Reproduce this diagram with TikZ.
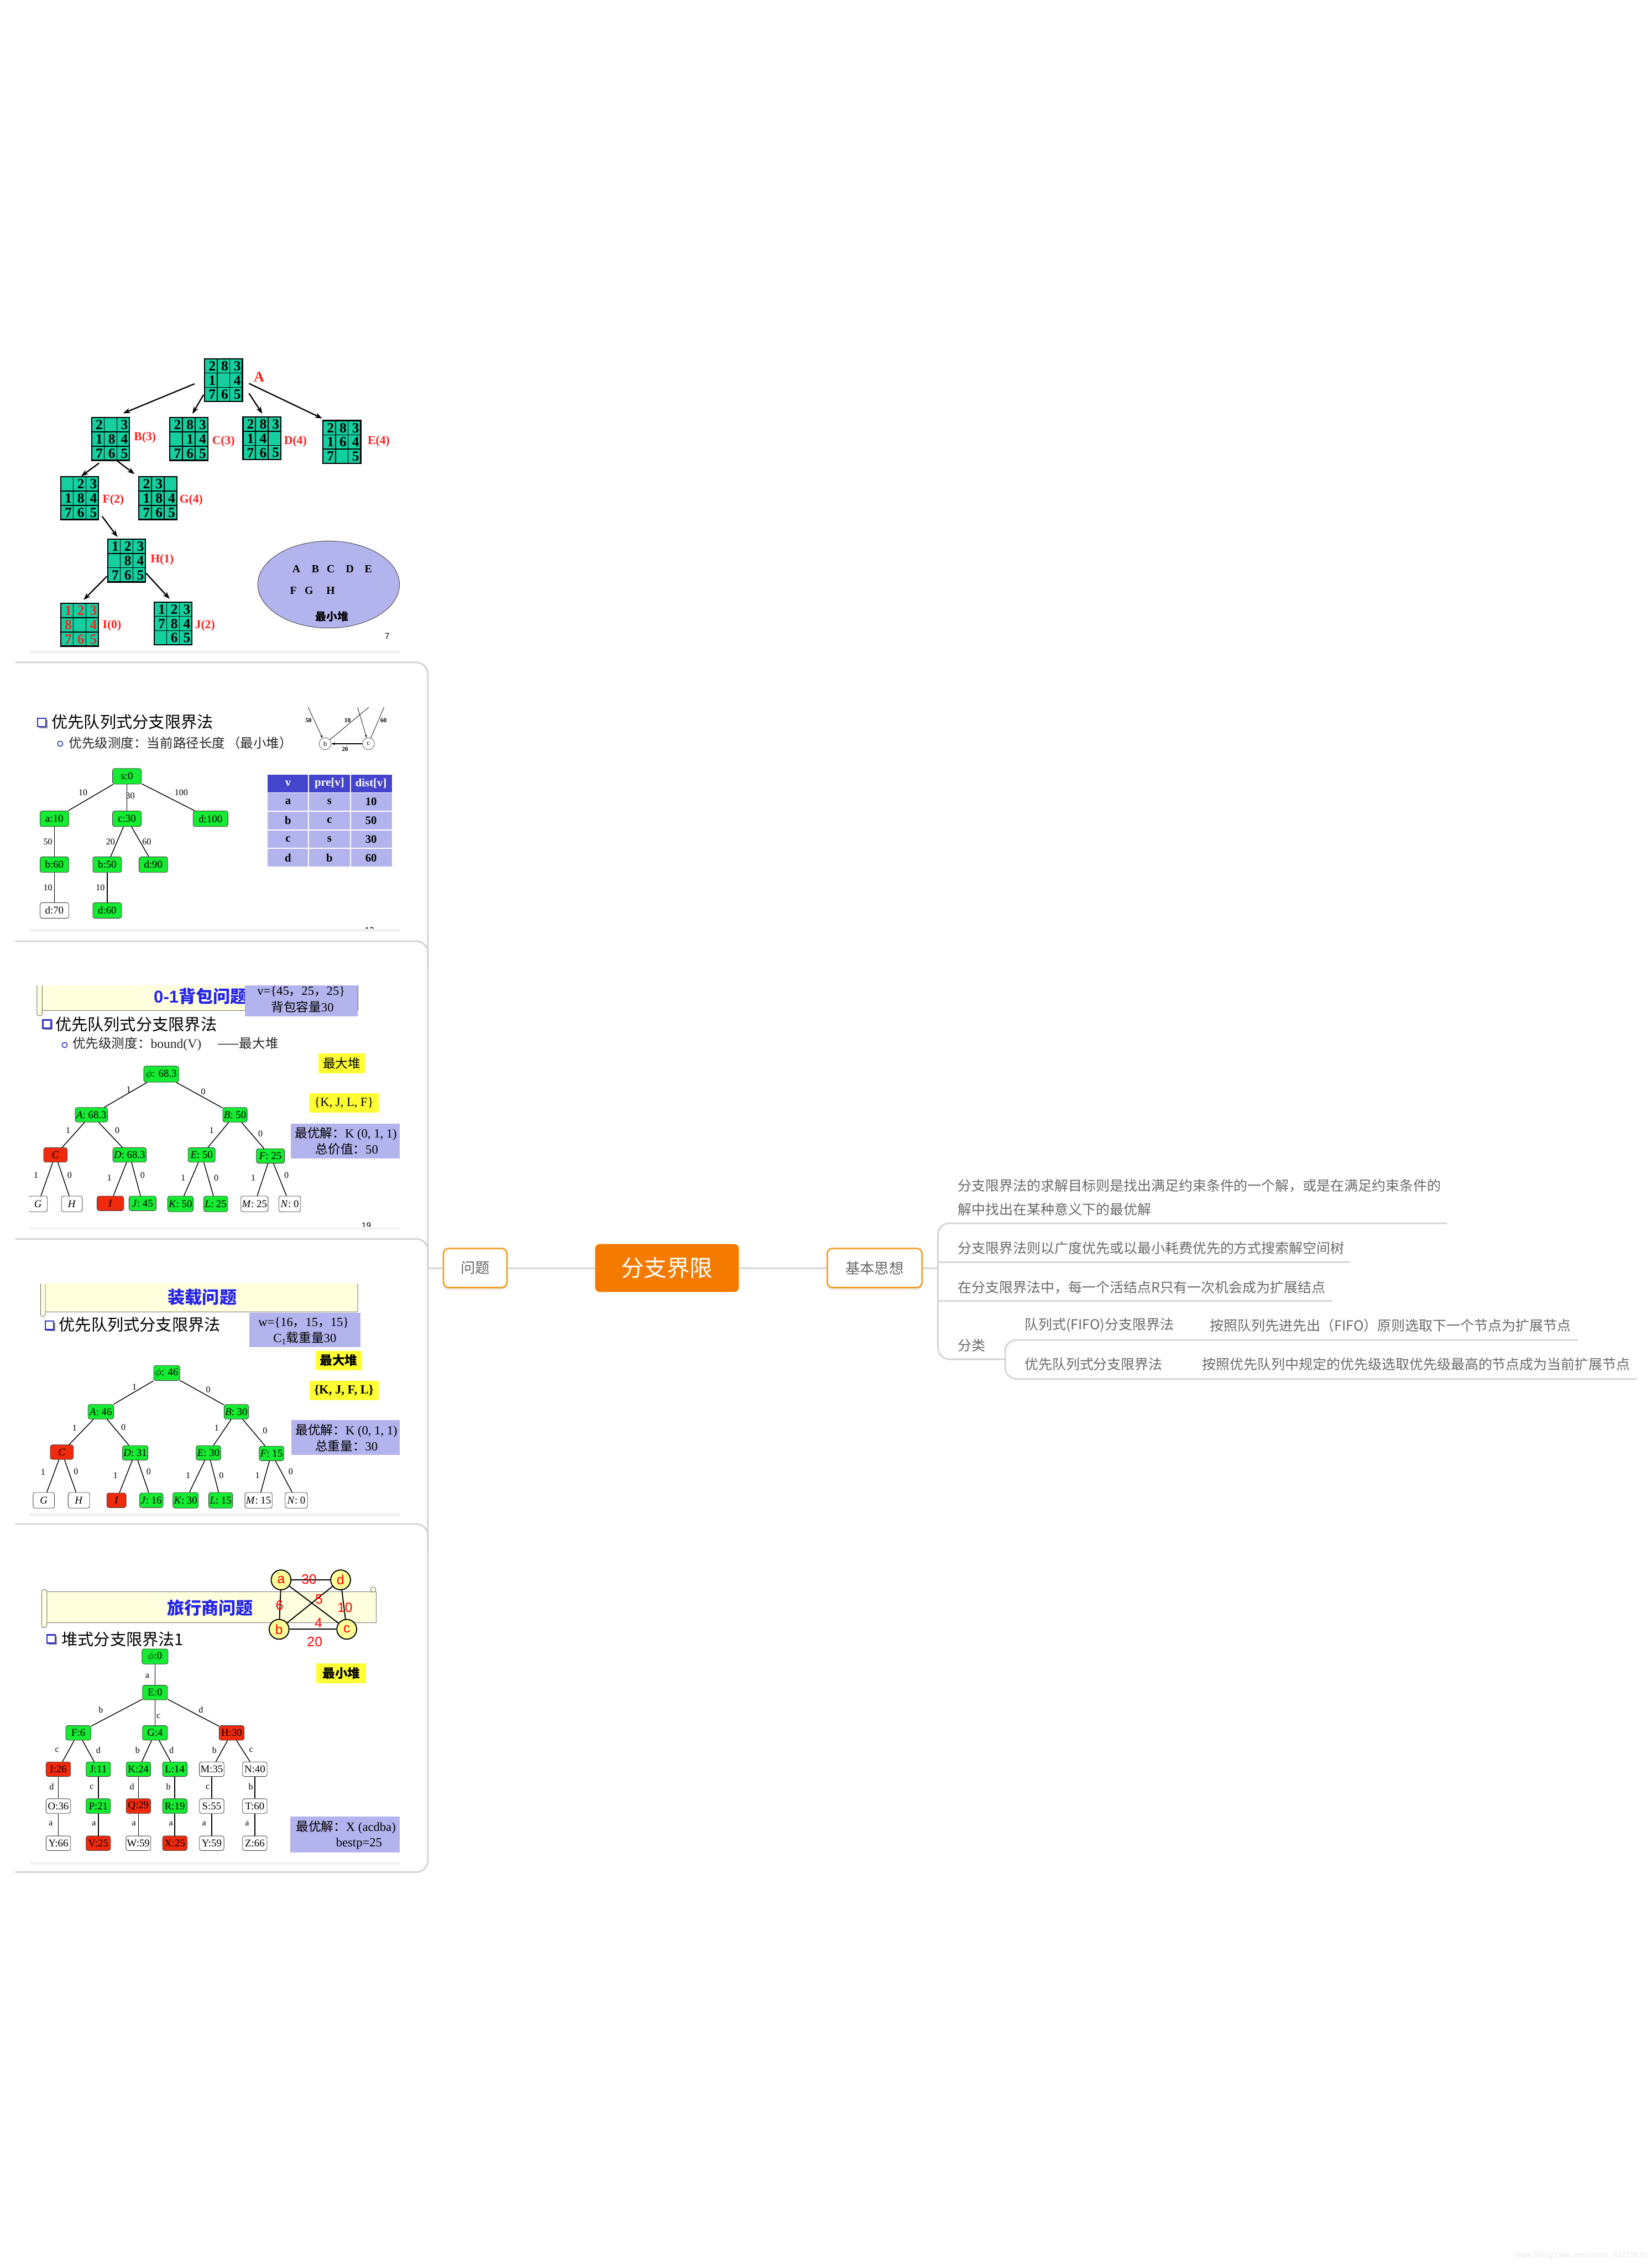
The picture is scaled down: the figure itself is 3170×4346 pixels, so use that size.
\documentclass[tikz,border=0pt]{standalone}
\usepackage{fontspec}
\setmainfont{Liberation Serif}
\newfontfamily\cjk{Noto Sans CJK SC}
\newfontfamily\arial{Liberation Sans}
\usetikzlibrary{arrows.meta,calc,shadows}

\definecolor{mmline}{RGB}{212,214,214}
\definecolor{mmtext}{RGB}{105,105,105}
\definecolor{mmorange}{RGB}{243,158,40}
\definecolor{rootorange}{RGB}{245,123,0}
\definecolor{tealcell}{RGB}{20,208,160}
\definecolor{nodegreen}{RGB}{20,235,50}
\definecolor{nodered}{RGB}{242,42,12}
\definecolor{pzred}{RGB}{255,30,30}
\definecolor{lavender}{RGB}{179,179,238}
\definecolor{headblue}{RGB}{68,68,204}
\definecolor{boxyellow}{RGB}{255,255,51}
\definecolor{bannercream}{RGB}{255,255,221}
\definecolor{titleblue}{RGB}{35,35,235}
\definecolor{bulletblue}{RGB}{50,50,200}
\definecolor{tspyellow}{RGB}{255,255,153}

\newcommand{\fsz}[1]{\fontsize{#1}{#1}\selectfont}
\newcommand{\zh}[1]{{\cjk #1}}

\tikzset{
  % mind map
  branch/.style={draw=mmline, line width=3.2pt},
  topic/.style={draw=mmorange, line width=3pt, rounded corners=10pt, fill=white, text=mmtext,
    font=\cjk\fsz{28}, minimum height=75pt,
    drop shadow={shadow xshift=0pt, shadow yshift=-5pt, opacity=0.12}},
  rootbox/.style={fill=rootorange, text=white, rounded corners=9pt, font=\cjk\fsz{44},
    minimum width=276pt, minimum height=92pt},
  leaf/.style={text=mmtext, font=\cjk\fsz{26.5}, inner sep=0pt, anchor=west},
  % slides
  slidebg/.style={fill=white, drop shadow={shadow xshift=0pt, shadow yshift=-6pt, opacity=0.1}},
  pzbox/.style={fill=tealcell, draw=black, line width=2.4pt, minimum width=72.6pt, minimum height=82pt, inner sep=0pt},
  pzgrid/.style={draw=black, line width=1.6pt},
  pzdigit/.style={font=\bfseries\fsz{27}, inner sep=0pt},
  pzlabel/.style={text=pzred, font=\bfseries\fsz{23}, inner sep=0pt, anchor=west},
  pzarrow/.style={-{Stealth[length=14pt,width=10pt]}, line width=2.4pt},
  tnode/.style={draw=black!75, line width=0.9pt, rounded corners=4pt, minimum height=28pt, inner sep=2pt, font=\fsz{20}},
  gnode/.style={tnode, fill=nodegreen},
  rnode/.style={tnode, fill=nodered},
  wnode/.style={tnode, fill=white},
  tedge/.style={line width=1.5pt},
  elabel/.style={font=\fsz{17}, inner sep=0pt},
  headline/.style={anchor=west, inner sep=0pt, font=\cjk\fsz{31}},
  subline/.style={anchor=west, inner sep=0pt, font=\fsz{25}, text=black!85},
  banner/.style={fill=bannercream, draw=black!55, line width=1pt},
  bannertitle/.style={text=titleblue, font=\cjk\bfseries\fsz{33}, inner sep=0pt},
  boxtext/.style={font=\fsz{24}, inner sep=0pt},
  tabtext/.style={font=\bfseries\fsz{22}, inner sep=0pt},
  tspnode/.style={circle, draw=black, line width=2pt, fill=tspyellow, minimum size=38pt, inner sep=0pt, text=red, font=\arial\fsz{26}},
  tsplabel/.style={text=red, font=\arial\fsz{26}, inner sep=0pt},
}

% one 3x3 board of the eight puzzle
\newcommand{\puzzle}[5]{%
  \node[pzbox] (#1) at (#2+36.3,#3+41) {};
  \draw[pzgrid] (#2+24.2,#3) -- ++(0,82) (#2+48.4,#3) -- ++(0,82)
                (#2,#3+27.3) -- ++(72.6,0) (#2,#3+54.7) -- ++(72.6,0);
  \foreach \dig [count=\pidx from 0] in {#4} {
    \pgfmathtruncatemacro{\prow}{floor(\pidx/3)}
    \pgfmathtruncatemacro{\pcol}{\pidx-3*\prow}
    \node[pzdigit, text=#5] (#1-\pidx) at (#2+\pcol*24.2+14.5,#3+\prow*27.3+14) {\dig};
  }
}
\newcommand{\sqbullet}[2]{%
  \fill[black!45] (#1+3,#2+3) rectangle ++(16,16);
  \draw[fill=white, draw=bulletblue, line width=2.6pt] (#1,#2) rectangle ++(16,16);
}

\begin{document}
\begin{tikzpicture}[x=1pt, y=-1pt]
\useasboundingbox (0,0) rectangle (3170,4346);

% Draw the bracket that holds the slides
\draw[branch, rounded corners=22pt] (29,1271) -- (821,1271) -- (821,3592) -- (29,3592);
\draw[branch, rounded corners=22pt] (29,1806) -- (821,1806) -- (821,1860);
\draw[branch, rounded corners=22pt] (29,2377) -- (821,2377) -- (821,2430);
\draw[branch, rounded corners=22pt] (29,2924) -- (821,2924) -- (821,2980);
\coordinate (lbr) at (821,2433);

% Main topics
\node[rootbox] (root) at (1280,2433) {分支界限};
\node[topic, minimum width=122pt] (wenti) at (912,2433) {问题};
\node[topic, minimum width=182pt] (jbsx) at (1678.5,2433) {基本思想};
\coordinate (rbr) at (1800,2433);
\draw[branch] (lbr) -- (wenti);
\draw[branch] (wenti) -- (root);
\draw[branch] (root) -- (jbsx);
\draw[branch] (jbsx) -- (rbr);

% Right bracket with its leaves
\draw[branch, rounded corners=22pt] (2777,2347) -- (1800,2347) -- (1800,2608) -- (1929,2608);
\draw[branch] (1800,2422) -- (2591,2422);
\draw[branch] (1800,2496) -- (2557,2496);
\draw[branch, rounded corners=22pt] (3028,2571) -- (1929,2571) -- (1929,2646) -- (3141,2646);
\node[leaf, align=left, font=\cjk\fontsize{26.5}{45}\selectfont] (k1) at (1838,2297.5)
  {分支限界法的求解目标则是找出满足约束条件的一个解，或是在满足约束条件的\\解中找出在某种意义下的最优解};
\node[leaf] (k2) at (1838,2395) {分支限界法则以广度优先或以最小耗费优先的方式搜索解空间树};
\node[leaf] (k3) at (1838,2470) {在分支限界法中，每一个活结点R只有一次机会成为扩展结点};
\node[leaf] (k4) at (1838,2582) {分类};
\node[leaf] (k41) at (1966,2543) {队列式(FIFO)分支限界法};
\node[leaf] (k41d) at (2322,2543) {按照队列先进先出（FIFO）原则选取下一个节点为扩展节点};
\node[leaf] (k42) at (1966,2618) {优先队列式分支限界法};
\node[leaf] (k42d) at (2307,2618) {按照优先队列中规定的优先级选取优先级最高的节点成为当前扩展节点};

% Slide 1: eight puzzle
\fill[slidebg] (56,688) rectangle (767,1248);
\begin{scope}
  \clip (56,688) rectangle (767,1248);
  \puzzle{pA}{392.6}{688.4}{2,8,3,1,{},4,7,6,5}{black}
  \puzzle{pB}{175.9}{801.3}{2,{},3,1,8,4,7,6,5}{black}
  \puzzle{pC}{326.0}{801.3}{2,8,3,{},1,4,7,6,5}{black}
  \puzzle{pD}{466.2}{800.1}{2,8,3,1,4,{},7,6,5}{black}
  \puzzle{pE}{619.6}{807.0}{2,8,3,1,6,4,7,{},5}{black}
  \puzzle{pF}{116.5}{914.9}{{},2,3,1,8,4,7,6,5}{black}
  \puzzle{pG}{266.6}{914.9}{2,3,{},1,8,4,7,6,5}{black}
  \puzzle{pH}{206.6}{1034.7}{1,2,3,{},8,4,7,6,5}{black}
  \puzzle{pI}{116.5}{1157.9}{1,2,3,8,{},4,7,6,5}{pzred}
  \puzzle{pJ}{295.8}{1155.3}{1,2,3,7,8,4,{},6,5}{black}
  \node[pzlabel, font=\bfseries\fsz{28}] (lA) at (487,723.6) {A};
  \node[pzlabel] (lB) at (257,840) {B(3)};
  \node[pzlabel] (lC) at (407,847) {C(3)};
  \node[pzlabel] (lD) at (545,847) {D(4)};
  \node[pzlabel] (lE) at (705.5,847) {E(4)};
  \node[pzlabel] (lF) at (196.7,960) {F(2)};
  \node[pzlabel] (lG) at (344.4,959) {G(4)};
  \node[pzlabel] (lH) at (288.7,1073.7) {H(1)};
  \node[pzlabel] (lI) at (196.7,1200) {I(0)};
  \node[pzlabel] (lJ) at (374,1200) {J(2)};
  \draw[pzarrow] ($(pA.west)+(-18,7)$) -- ($(pB.north)+(24,-7)$);
  \draw[pzarrow] ($(pA.south west)+(-1,-14)$) -- ($(pC.north)+(7,-6)$);
  \draw[pzarrow] ($(pA.south east)+(11.4,-17)$) -- ($(pD.north)+(1,-5)$);
  \draw[pzarrow] ($(pA.east)+(11.4,6.4)$) -- ($(pE.north west)+(0,-3)$);
  \draw[pzarrow] ($(pB.south)+(-22,4)$) -- ($(pF.north)+(3,0)$);
  \draw[pzarrow] ($(pB.south)+(13,0)$) -- ($(pG.north west)+(-7,-4)$);
  \draw[pzarrow] ($(pF.south east)+(5.7,-7.4)$) -- ($(pH.north)+(-17.4,-3)$);
  \draw[pzarrow] ($(pH.south west)+(0,-12.3)$) -- ($(pI.north)+(7.6,-5.7)$);
  \draw[pzarrow] ($(pH.south east)+(0,-18)$) -- ($(pJ.north)+(-6.5,-5)$);
  % the heap
  \draw[fill=lavender, draw=black!70, line width=1pt] (630.7,1121.6) ellipse [x radius=136, y radius=83.5];
  \foreach \l/\x in {A/568.6, B/605.4, C/634.7, D/671.5, E/707}
    \node[font=\bfseries\fsz{21}, inner sep=0pt] (h\l) at (\x,1091.7) {\l};
  \foreach \l/\x in {F/563, G/593, H/634.7}
    \node[font=\bfseries\fsz{21}, inner sep=0pt] (h\l) at (\x,1133) {\l};
  \node[font=\cjk\bfseries\fsz{21}, inner sep=0pt] (heap1) at (637,1183) {最小堆};
  \node[font=\arial\fsz{16}, inner sep=0pt] (pg1) at (743,1221) {7};
\end{scope}

% Slide 2: shortest path with a priority queue
\fill[slidebg] (56,1358) rectangle (767,1782);
\begin{scope}
  \clip (56,1358) rectangle (767,1782);
  \sqbullet{72}{1378}
  \node[headline] (t2) at (99,1385) {优先队列式分支限界法};
  \draw[bulletblue, line width=1.6pt] (115.5,1427) circle (5);
  \node[subline] (u2) at (132,1426) {\zh{优先级测度：当前路径长度\,（最小堆）}};
  % small graph
  \node[circle, draw=black!70, line width=0.8pt, fill=white, minimum size=23pt, inner sep=0pt, font=\fsz{13}] (gb) at (624,1427) {b};
  \node[circle, draw=black!70, line width=0.8pt, fill=white, minimum size=23pt, inner sep=0pt, font=\fsz{13}] (gc) at (707,1427) {c};
  \coordinate (g50) at (588,1350);
  \coordinate (g10) at (716,1350);
  \coordinate (gx) at (684,1350);
  \coordinate (g60) at (740,1350);
  \draw[-{Stealth[length=6pt,width=4pt]}, line width=0.8pt] (g50) -- (gb);
  \draw[line width=0.8pt] (gb) -- (g10);
  \draw[-{Stealth[length=6pt,width=4pt]}, line width=0.8pt] (gx) -- (gc);
  \draw[-{Stealth[length=6pt,width=4pt]}, line width=0.8pt] (gc) -- (g60);
  \draw[-{Stealth[length=7pt,width=5pt]}, line width=1.4pt] (gc) -- (gb);
  \node[font=\bfseries\fsz{12}, inner sep=0pt] (w50) at (592,1382) {50};
  \node[font=\bfseries\fsz{12}, inner sep=0pt] (w10) at (667,1382) {10};
  \node[font=\bfseries\fsz{12}, inner sep=0pt] (w60) at (736,1382) {60};
  \node[font=\bfseries\fsz{12}, inner sep=0pt] (w20) at (662,1437) {20};
  % tree
  \node[gnode, minimum width=55pt, minimum height=30pt] (s2) at (243.6,1489.5) {s:0};
  \node[gnode, minimum width=55pt, minimum height=30pt] (a2) at (104.4,1571) {a:10};
  \node[gnode, minimum width=55pt, minimum height=30pt] (c2) at (243.6,1571) {c:30};
  \node[gnode, minimum width=67pt, minimum height=30pt] (d2) at (404,1571) {d:100};
  \node[gnode, minimum width=55pt, minimum height=30pt] (b2) at (104.4,1659) {b:60};
  \node[gnode, minimum width=55pt, minimum height=30pt] (bb2) at (205.7,1659) {b:50};
  \node[gnode, minimum width=55pt, minimum height=30pt] (dd2) at (294.2,1659) {d:90};
  \node[wnode, minimum width=55pt, minimum height=30pt] (e2) at (104.4,1747) {d:70};
  \node[gnode, minimum width=55pt, minimum height=30pt] (f2) at (205.7,1747) {d:60};
  \draw[tedge] (s2) -- (a2);
  \draw[tedge] (s2) -- (c2);
  \draw[tedge] (s2) -- (d2);
  \draw[tedge] (a2) -- (b2);
  \draw[tedge] (c2) -- (bb2);
  \draw[tedge] (c2) -- (dd2);
  \draw[tedge] (b2) -- (e2);
  \draw[tedge] (bb2) -- (f2);
  \node[elabel] (l2a) at (159.4,1521) {10};
  \node[elabel] (l2b) at (250,1527) {30};
  \node[elabel] (l2c) at (348,1521) {100};
  \node[elabel] (l2d) at (92,1615) {50};
  \node[elabel] (l2e) at (212,1615) {20};
  \node[elabel] (l2f) at (281.7,1615) {60};
  \node[elabel] (l2g) at (92,1703) {10};
  \node[elabel] (l2h) at (192.5,1703) {10};
  % table
  \fill[headblue] (513.4,1486.7) rectangle (751.8,1520);
  \fill[lavender] (513.4,1521.7) rectangle (751.8,1662.7);
  \draw[white, line width=2pt] (592.2,1486.7) -- (592.2,1662.7) (672.5,1486.7) -- (672.5,1662.7)
    (513.4,1556.3) -- (751.8,1556.3) (513.4,1592.3) -- (751.8,1592.3) (513.4,1628) -- (751.8,1628);
  \node[tabtext, text=white] (th1) at (552.8,1503) {v};
  \node[tabtext, text=white] (th2) at (632.3,1503) {pre[v]};
  \node[tabtext, text=white] (th3) at (712.1,1503) {dist[v]};
  \foreach \r/\y/\va/\vb/\vc in {1/1538.4/a/s/10, 2/1574/b/c/50, 3/1610.3/c/s/30, 4/1646/d/b/60} {
    \node[tabtext] (tv\r) at (552.8,\y) {\va};
    \node[tabtext] (tp\r) at (632.3,\y) {\vb};
    \node[tabtext] (td\r) at (712.1,\y) {\vc};
  }
  \node[font=\arial\fsz{16}, inner sep=0pt] (pg2) at (709,1785) {12};
\end{scope}

% Slide 3: 0-1 knapsack
\fill[slidebg] (56,1891) rectangle (767,2354);
\begin{scope}
  \clip (56,1891) rectangle (767,2354);
  \draw[banner] (80,1880) rectangle (686.6,1939);
  \draw[banner, rounded corners=4pt] (71,1878) rectangle (81,1949);
  \node[bannertitle, anchor=west] (ti3) at (295,1911.7) {{\arial\bfseries 0-1}背包问题};
  \fill[lavender] (470.5,1885) rectangle (686.6,1950);
  \draw[black!60, line width=1pt] (686.6,1885) -- (686.6,1937);
  \node[boxtext] (v3) at (578,1903) {v=\{45\zh{，}25\zh{，}25\}};
  \node[boxtext] (cap3) at (580.4,1931.7) {\zh{背包容量}30};
  \sqbullet{82}{1957}
  \node[headline] (t3) at (106,1965) {优先队列式分支限界法};
  \draw[bulletblue, line width=1.6pt] (124,2005) circle (5);
  \node[subline] (u3) at (139,2003) {\zh{优先级测度：}bound(V)\hspace{31pt}\zh{——最大堆}};
  \fill[boxyellow] (611,2021.7) rectangle (700.8,2059);
  \node[boxtext, font=\cjk\fsz{24}] (y3a) at (656,2040) {最大堆};
  \fill[boxyellow] (593,2097.7) rectangle (726.8,2135);
  \node[boxtext] (y3b) at (660,2116) {\{K, J, L, F\}};
  \fill[lavender] (558,2156) rectangle (767.8,2223.3);
  \node[boxtext, anchor=west] (o3a) at (566,2176) {\zh{最优解：}K (0, 1, 1)};
  \node[boxtext] (o3b) at (665.6,2205) {\zh{总价值：}50};
  % tree
  \node[gnode, minimum width=67pt, minimum height=31pt] (p3) at (309.5,2061) {$\phi$: 68.3};
  \node[gnode, minimum width=61pt] (A3) at (175.4,2139) {\textit{A}: 68.3};
  \node[gnode, minimum width=46pt] (B3) at (451,2139) {\textit{B}: 50};
  \node[rnode, minimum width=45pt] (C3) at (106.3,2216) {\textit{C}};
  \node[gnode, minimum width=60pt] (D3) at (248.6,2216) {\textit{D}: 68.3};
  \node[gnode, minimum width=52pt] (E3) at (387,2216) {\textit{E}: 50};
  \node[gnode, minimum width=54pt] (F3) at (519,2218) {\textit{F}: 25};
  \node[wnode, minimum width=36pt, minimum height=30pt] (G3) at (73,2310) {\textit{G}};
  \node[wnode, minimum width=40pt, minimum height=30pt] (H3) at (138,2310) {\textit{H}};
  \node[rnode, minimum width=51pt] (I3) at (211.8,2309) {\textit{I}};
  \node[gnode, minimum width=52pt] (J3) at (273.6,2309) {\textit{J}: 45};
  \node[gnode, minimum width=46pt, minimum height=30pt] (K3) at (346.3,2310) {\textit{K}: 50};
  \node[gnode, minimum width=45pt, minimum height=30pt] (L3) at (414,2310) {\textit{L}: 25};
  \node[wnode, minimum width=52pt, minimum height=30pt] (M3) at (488.4,2310) {\textit{M}: 25};
  \node[wnode, minimum width=42pt, minimum height=30pt] (N3) at (556,2310) {\textit{N}: 0};
  \draw[tedge] (p3) -- (A3);
  \draw[tedge] (p3) -- (B3);
  \draw[tedge] (A3) -- (C3);
  \draw[tedge] (A3) -- (D3);
  \draw[tedge] (B3) -- (E3);
  \draw[tedge] (B3) -- (F3);
  \draw[tedge] (C3) -- (G3);
  \draw[tedge] (C3) -- (H3);
  \draw[tedge] (D3) -- (I3);
  \draw[tedge] (D3) -- (J3);
  \draw[tedge] (E3) -- (K3);
  \draw[tedge] (E3) -- (L3);
  \draw[tedge] (F3) -- (M3);
  \draw[tedge] (F3) -- (N3);
  \node[elabel] (e3a) at (246.7,2090) {1};
  \node[elabel] (e3b) at (390,2095) {0};
  \node[elabel] (e3c) at (130.6,2169) {1};
  \node[elabel] (e3d) at (225,2169) {0};
  \node[elabel] (e3e) at (406,2169) {1};
  \node[elabel] (e3f) at (500,2175) {0};
  \node[elabel] (e3g) at (69,2255) {1};
  \node[elabel] (e3h) at (133.5,2255) {0};
  \node[elabel] (e3i) at (210,2260.7) {1};
  \node[elabel] (e3j) at (273.6,2255) {0};
  \node[elabel] (e3k) at (351.5,2260.7) {1};
  \node[elabel] (e3l) at (415,2260.7) {0};
  \node[elabel] (e3m) at (486,2260.7) {1};
  \node[elabel] (e3n) at (549.8,2255) {0};
  \node[font=\arial\fsz{16}, inner sep=0pt] (pg3) at (703,2352) {19};
\end{scope}

% Slide 4: loading problem
\fill[slidebg] (56,2463) rectangle (767,2903);
\begin{scope}
  \clip (56,2463) rectangle (767,2903);
  \draw[banner, rounded corners=3pt] (84,2455) rectangle (686.6,2517.3);
  \draw[banner, rounded corners=4pt] (77.8,2455) rectangle (87,2526);
  \node[bannertitle] (ti4) at (388.3,2489.3) {装载问题};
  \sqbullet{87}{2535}
  \node[headline] (t4) at (113,2541.7) {优先队列式分支限界法};
  \fill[lavender] (478,2519) rectangle (691.4,2585);
  \node[boxtext] (w4) at (582.8,2538.3) {w=\{16\zh{，}15\zh{，}15\}};
  \node[boxtext] (cap4) at (585,2567.7) {C\textsubscript{1}\zh{载重量}30};
  \fill[boxyellow] (605.5,2591.7) rectangle (694.7,2629);
  \node[boxtext, font=\cjk\bfseries\fsz{24}] (y4a) at (650,2610) {最大堆};
  \fill[boxyellow] (593.7,2649.3) rectangle (726.8,2686.7);
  \node[boxtext, font=\bfseries\fsz{24}] (y4b) at (660,2668) {\{K, J, F, L\}};
  \fill[lavender] (559,2725) rectangle (767.8,2791.7);
  \node[boxtext, anchor=west] (o4a) at (567,2745) {\zh{最优解：}K (0, 1, 1)};
  \node[boxtext] (o4b) at (665,2774.3) {\zh{总重量：}30};
  % tree
  \node[gnode, minimum width=50pt, minimum height=29pt] (p4) at (320,2634.5) {$\phi$: 46};
  \node[gnode, minimum width=49pt] (A4) at (193.5,2708.8) {\textit{A}: 46};
  \node[gnode, minimum width=46pt] (B4) at (453.5,2708.8) {\textit{B}: 30};
  \node[rnode, minimum width=44pt] (C4) at (118.6,2786.3) {\textit{C}};
  \node[gnode, minimum width=49pt] (D4) at (259.5,2787.7) {\textit{D}: 31};
  \node[gnode, minimum width=47pt] (E4) at (400,2787.7) {\textit{E}: 30};
  \node[gnode, minimum width=46pt] (F4) at (521,2788.8) {\textit{F}: 15};
  \node[wnode, minimum width=41pt, minimum height=30pt] (G4) at (84,2878.7) {\textit{G}};
  \node[wnode, minimum width=41pt, minimum height=30pt] (H4) at (151.4,2878.7) {\textit{H}};
  \node[rnode, minimum width=37pt] (I4) at (223.5,2878.7) {\textit{I}};
  \node[gnode, minimum width=45pt] (J4) at (290.4,2878.7) {\textit{J}: 16};
  \node[gnode, minimum width=47pt, minimum height=30pt] (K4) at (356.2,2878.7) {\textit{K}: 30};
  \node[gnode, minimum width=45pt, minimum height=30pt] (L4) at (423.5,2878.7) {\textit{L}: 15};
  \node[wnode, minimum width=50pt, minimum height=30pt] (M4) at (496.2,2878.7) {\textit{M}: 15};
  \node[wnode, minimum width=43pt, minimum height=30pt] (N4) at (568.7,2878.7) {\textit{N}: 0};
  \draw[tedge] (p4) -- (A4);
  \draw[tedge] (p4) -- (B4);
  \draw[tedge] (A4) -- (C4);
  \draw[tedge] (A4) -- (D4);
  \draw[tedge] (B4) -- (E4);
  \draw[tedge] (B4) -- (F4);
  \draw[tedge] (C4) -- (G4);
  \draw[tedge] (C4) -- (H4);
  \draw[tedge] (D4) -- (I4);
  \draw[tedge] (D4) -- (J4);
  \draw[tedge] (E4) -- (K4);
  \draw[tedge] (E4) -- (L4);
  \draw[tedge] (F4) -- (M4);
  \draw[tedge] (F4) -- (N4);
  \node[elabel] (e4a) at (258,2661.7) {1};
  \node[elabel] (e4b) at (399.7,2666.7) {0};
  \node[elabel] (e4c) at (143,2740) {1};
  \node[elabel] (e4d) at (236.8,2739) {0};
  \node[elabel] (e4e) at (415.7,2740) {1};
  \node[elabel] (e4f) at (508.7,2745) {0};
  \node[elabel] (e4g) at (82.5,2825) {1};
  \node[elabel] (e4h) at (145.7,2824) {0};
  \node[elabel] (e4i) at (221.7,2830.7) {1};
  \node[elabel] (e4j) at (285.4,2824) {0};
  \node[elabel] (e4k) at (361,2830.7) {1};
  \node[elabel] (e4l) at (424.7,2830.7) {0};
  \node[elabel] (e4m) at (494,2830.7) {1};
  \node[elabel] (e4n) at (558,2824) {0};
\end{scope}

% Slide 5: travelling salesman
\fill[slidebg] (56,3012) rectangle (767,3572);
\begin{scope}
  \clip (56,3012) rectangle (767,3572);
  \draw[banner] (88,3053.6) rectangle (722,3114);
  \draw[banner, rounded corners=4pt] (80,3050) rectangle (90,3123);
  \draw[banner] (716,3050) circle (5);
  \node[bannertitle] (ti5) at (403.4,3085.5) {旅行商问题};
  % the graph
  \node[tspnode] (ta) at (539.4,3031.4) {a};
  \node[tspnode] (td) at (653.6,3031.4) {d};
  \node[tspnode] (tb) at (535.6,3126.2) {b};
  \node[tspnode] (tc) at (665.4,3126.2) {c};
  \draw[line width=2pt] (ta) -- (td);
  \draw[line width=2pt] (ta) -- (tb);
  \draw[line width=2pt] (td) -- (tc);
  \draw[line width=2pt] (tb) -- (tc);
  \draw[line width=2pt] (ta) -- (tc);
  \draw[line width=2pt] (td) -- (tb);
  \node[tsplabel] (c30) at (593,3030.7) {30};
  \node[tsplabel] (c5) at (612.5,3068.4) {5};
  \node[tsplabel] (c6) at (536.5,3080.7) {6};
  \node[tsplabel] (c10) at (662,3084.4) {10};
  \node[tsplabel] (c4) at (611,3114) {4};
  \node[tsplabel] (c20) at (604,3149.8) {20};
  \sqbullet{90}{3137}
  \node[headline] (t5) at (118,3145.4) {堆式分支限界法1};
  \fill[boxyellow] (607.4,3191.7) rectangle (702,3229.8);
  \node[boxtext, font=\cjk\bfseries\fsz{24}] (y5) at (655,3211) {最小堆};
  \fill[lavender] (557,3485) rectangle (767,3554);
  \node[boxtext, anchor=west] (o5a) at (568,3506) {\zh{最优解：}X (acdba)};
  \node[boxtext] (o5b) at (689,3537) {bestp=25};
  % tree
  \node[gnode, minimum width=50pt, minimum height=29pt] (p5) at (297.5,3178.4) {$\phi$:0};
  \node[gnode, minimum width=48pt] (E5) at (297.5,3247.6) {E:0};
  \node[gnode, minimum width=48pt] (F5) at (150.3,3325) {F:6};
  \node[gnode, minimum width=48pt] (G5) at (297.5,3325) {G:4};
  \node[rnode, minimum width=48pt] (H5) at (444.6,3325) {H:30};
  \node[rnode, minimum width=47pt] (I5) at (112,3394.7) {I:26};
  \node[gnode, minimum width=47pt] (J5) at (188.7,3394.7) {J:11};
  \node[gnode, minimum width=47pt] (K5) at (265.6,3394.7) {K:24};
  \node[gnode, minimum width=47pt] (L5) at (335.5,3394.7) {L:14};
  \node[wnode, minimum width=47pt] (M5) at (406.3,3394.7) {M:35};
  \node[wnode, minimum width=47pt] (N5) at (489,3394.7) {N:40};
  \node[wnode, minimum width=47pt] (O5) at (112,3465.4) {O:36};
  \node[gnode, minimum width=47pt] (P5) at (188.7,3465.4) {P:21};
  \node[rnode, minimum width=47pt] (Q5) at (265.6,3465.4) {Q:29};
  \node[gnode, minimum width=47pt] (R5) at (335.5,3465.4) {R:19};
  \node[wnode, minimum width=47pt] (S5) at (406.3,3465.4) {S:55};
  \node[wnode, minimum width=47pt] (T5) at (489,3465.4) {T:60};
  \node[wnode, minimum width=47pt] (Ya5) at (112,3536.7) {Y:66};
  \node[rnode, minimum width=47pt] (V5) at (188.7,3536.7) {V:25};
  \node[wnode, minimum width=47pt] (W5) at (265.6,3536.7) {W:59};
  \node[rnode, minimum width=47pt] (X5) at (335.5,3536.7) {X:25};
  \node[wnode, minimum width=47pt] (Yb5) at (406.3,3536.7) {Y:59};
  \node[wnode, minimum width=47pt] (Z5) at (489,3536.7) {Z:66};
  \draw[tedge] (p5) -- (E5);
  \draw[tedge] (E5) -- (F5);
  \draw[tedge] (E5) -- (G5);
  \draw[tedge] (E5) -- (H5);
  \draw[tedge] (F5) -- (I5);
  \draw[tedge] (F5) -- (J5);
  \draw[tedge] (G5) -- (K5);
  \draw[tedge] (G5) -- (L5);
  \draw[tedge] (H5) -- (M5);
  \draw[tedge] (H5) -- (N5);
  \draw[tedge] (I5) -- (O5);
  \draw[tedge] (J5) -- (P5);
  \draw[tedge] (K5) -- (Q5);
  \draw[tedge] (L5) -- (R5);
  \draw[tedge] (M5) -- (S5);
  \draw[tedge] (N5) -- (T5);
  \draw[tedge] (O5) -- (Ya5);
  \draw[tedge] (P5) -- (V5);
  \draw[tedge] (Q5) -- (W5);
  \draw[tedge] (R5) -- (X5);
  \draw[tedge] (S5) -- (Yb5);
  \draw[tedge] (T5) -- (Z5);
  \node[elabel] (e5a) at (283,3215.7) {a};
  \node[elabel] (e5b) at (193.4,3280.5) {b};
  \node[elabel] (e5c) at (304.3,3293.4) {c};
  \node[elabel] (e5d) at (385.5,3280.5) {d};
  \node[elabel] (e5e) at (109.4,3358) {c};
  \node[elabel] (e5f) at (188.7,3358) {d};
  \node[elabel] (e5g) at (264.2,3358) {b};
  \node[elabel] (e5h) at (329,3358) {d};
  \node[elabel] (e5i) at (411.5,3358) {b};
  \node[elabel] (e5j) at (482,3358) {c};
  \node[elabel] (e5k) at (99,3428.5) {d};
  \node[elabel] (e5l) at (176,3428.5) {c};
  \node[elabel] (e5m) at (253.3,3428.5) {d};
  \node[elabel] (e5n) at (323.2,3428.5) {b};
  \node[elabel] (e5o) at (398.7,3428.5) {c};
  \node[elabel] (e5p) at (481.3,3428.5) {b};
  \node[elabel] (e5q) at (97.6,3498.8) {a};
  \node[elabel] (e5r) at (180.2,3498.8) {a};
  \node[elabel] (e5s) at (257,3498.8) {a};
  \node[elabel] (e5t) at (328,3498.8) {a};
  \node[elabel] (e5u) at (391.6,3498.8) {a};
  \node[elabel] (e5v) at (474.2,3498.8) {a};
\end{scope}

% watermark
\node[font=\arial\fsz{15}, text=black!9, anchor=east, inner sep=0pt] (wm) at (3162,4328) {https://blog.csdn.net/weixin\_43275631};
\end{tikzpicture}
\end{document}
